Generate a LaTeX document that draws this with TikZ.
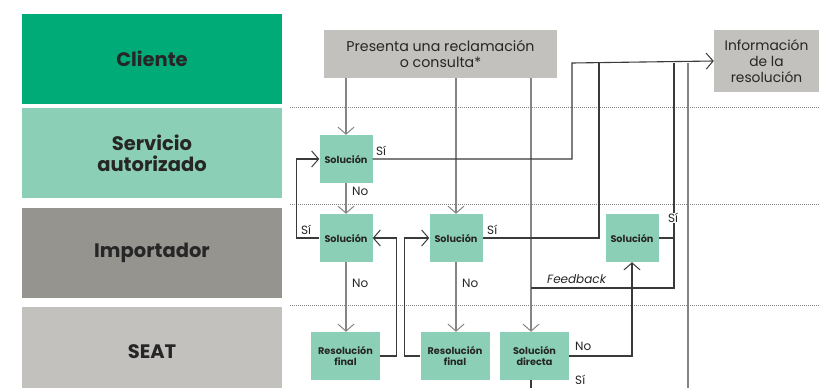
\documentclass[tikz,border=0pt]{standalone}
\usepackage{fontspec}
\setmainfont{Poppins}
\usetikzlibrary{arrows.meta}
\definecolor{cli}{HTML}{00AB78}
\definecolor{srv}{HTML}{8BD0B6}
\definecolor{imp}{HTML}{96948F}
\definecolor{seat}{HTML}{C2C1BD}
\definecolor{ink}{HTML}{262626}
\definecolor{dk}{HTML}{3A3A3A}
\definecolor{gr}{HTML}{858585}
\begin{document}
\begin{tikzpicture}[x=1pt,y=-1pt,
  lane/.style={minimum width=260pt,minimum height=90pt,inner sep=0pt,text=ink,
    font=\bfseries\fontsize{19.5}{21}\selectfont,align=center},
  proc/.style={fill=srv,inner sep=0pt,text=ink,font=\bfseries\fontsize{9.7}{11.5}\selectfont,
    align=center,minimum width=53pt,minimum height=48pt},
  wproc/.style={proc,minimum width=69pt},
  gbox/.style={fill=seat,inner sep=0pt,text=ink,font=\fontsize{14.2}{16}\selectfont,align=center},
  lbl/.style={font=\fontsize{12}{14}\selectfont,text=ink,inner sep=1pt},
  dl/.style={draw=dk,line width=1.1pt},
  gl/.style={draw=gr,line width=1.5pt},
  arr/.style={-{Straight Barb[length=7pt,width=16pt,line width=1pt]}},
  sep/.style={draw=gr,line width=0.8pt,dash pattern=on 1pt off 1pt}]
\clip (0,0) rectangle (819,388);
\fill[white] (0,0) rectangle (819,388);
% lanes
\node[lane,fill=cli] (lcli) at (152,59) {Cliente};
\node[lane,fill=srv] (lsrv) at (152,153) {Servicio\\autorizado};
\node[lane,fill=imp] (limp) at (152,253) {Importador};
\node[lane,fill=seat] (lseat) at (152,352) {SEAT};
% separators
\draw[sep] (290,107) -- (819,107);
\draw[sep] (290,204) -- (819,204);
\draw[sep] (290,305) -- (819,305);
% boxes
\node[gbox,minimum width=233pt,minimum height=48pt] (pres) at (440.5,54) {Presenta una reclamación\\o consulta*};
\node[gbox,minimum width=105pt,minimum height=62pt,font=\fontsize{13.8}{16}\selectfont] (info) at (766.5,61) {Información\\de la\\resolución};
\node[proc] (s1) at (346,159) {Solución};
\node[proc] (s2) at (346,238) {Solución};
\node[proc] (s3) at (456,238) {Solución};
\node[proc] (s4) at (632,238) {Solución};
\node[wproc] (r1) at (345.5,356) {Resolución\\final};
\node[wproc] (r2) at (455,356) {Resolución\\final};
\node[wproc] (sd) at (534.5,356) {Solución\\directa};
% coordinates
\coordinate (xd) at (531,0);
\coordinate (top) at (572,63);
\coordinate (v3) at (599,63);
\coordinate (v4) at (674,63);
\coordinate (v5) at (688,63);
\coordinate (fb) at (531,288);
\coordinate (bot) at (0,395);
% connectors from client request
\draw[gl,arr] (pres.south -| s1) -- (s1.north);
\draw[gl,arr] (pres.south -| s3) -- (s3.north);
\draw[gl,arr] (pres.south -| xd) -- (sd.north -| xd);
% information to client
\draw[dl,arr] (s1.east) -| (top) -- (info.west);
\draw[dl] (s3.east) -| (v3);
\draw[dl] (fb) -| (v4);
\draw[dl] (s4.east) -- (s4.east -| v4);
\draw[gl] (v5) -- (v5 |- bot);
% service / importer flow
\draw[gl,arr] (s1.south) -- (s2.north);
\draw[dl,arr] (s2.west) -- ++(-23,0) |- (s1.west);
\draw[gl,arr] (s2.south) -- (r1.north -| s2);
\draw[dl,arr] (r1.east) -- ++(16,0) |- (s2.east);
\draw[dl,arr] (r2.west) -- ++(-16,0) |- (s3.west);
\draw[gl,arr] (s3.south) -- (r2.north -| s3);
\draw[dl,arr] (sd.east) -| (s4.south);
\draw[dl] (sd.south -| xd) -- (xd |- bot);
% labels
\node[lbl,anchor=south west] (l1) at (375,157) {Sí};
\node[lbl,anchor=west] (l2) at (351,191) {No};
\node[lbl,anchor=south west] (l3) at (300,236) {Sí};
\node[lbl,anchor=west] (l4) at (351,283) {No};
\node[lbl,anchor=west] (l5) at (461,283) {No};
\node[lbl,anchor=south west] (l6) at (486,236) {Sí};
\node[lbl,font=\itshape\fontsize{12}{14}\selectfont,anchor=south west] (l7) at (546,285) {Feedback};
\node[lbl,fill=white,inner sep=0.5pt] (l8) at (673,218) {Sí};
\node[lbl,anchor=west] (l9) at (574,346) {No};
\node[lbl,anchor=west] (l10) at (574,380) {Sí};
\end{tikzpicture}
\end{document}
